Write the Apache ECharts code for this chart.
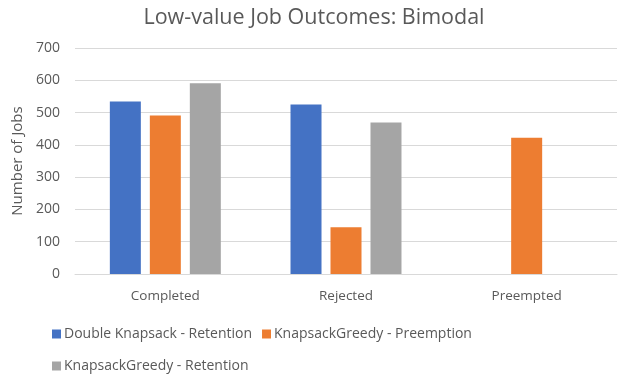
<!DOCTYPE html>
<html>
<head>
<meta charset="utf-8">
<script src="https://cdn.jsdelivr.net/npm/echarts@6/dist/echarts.min.js"></script>
<style>
  html, body { margin: 0; padding: 0; background: #fff; }
  #chart { width: 628px; height: 380px; }
</style>
</head>
<body>
<div id="chart"></div>
<script>
// chart data
const categories = ["Completed", "Rejected", "Preempted"];
const seriesNames = [
  "Double Knapsack - Retention",
  "KnapsackGreedy - Preemption",
  "KnapsackGreedy - Retention",
];
const doubleKnapsackRetention = [534, 525, 0];
const greedyPreemption = [491, 145, 422];
const greedyRetention = [591, 469, 0];
const yTicks = [0, 100, 200, 300, 400, 500, 600, 700];

const colors = ["#4472C4", "#ED7D31", "#A5A5A5"];
const font = "'Open Sans', 'Noto Sans', sans-serif";
const textColor = "#595959";

var myChart = echarts.init(document.getElementById("chart"));

var legendBase = {
  orient: "horizontal",
  icon: "rect",
  itemWidth: 9,
  itemHeight: 9,
  itemGap: 10,
  textStyle: { fontFamily: font, fontSize: 14, color: textColor, padding: [0, 0, 0, -2] },
};

var option = {
  backgroundColor: "#fff",
  animation: false,
  color: colors,
  title: {
    text: "Low-value Job Outcomes: Bimodal",
    left: "center",
    top: 2,
    textStyle: { fontFamily: font, fontSize: 21.5, fontWeight: "normal", color: textColor },
  },
  legend: [
    Object.assign({}, legendBase, { left: 47, top: 322, data: seriesNames.slice(0, 2) }),
    Object.assign({}, legendBase, { left: 47, top: 354, data: seriesNames.slice(2) }),
  ],
  grid: { left: 75, right: 11, top: 48, bottom: 106 },
  xAxis: {
    type: "category",
    data: categories,
    axisLine: { lineStyle: { color: "#d9d9d9" } },
    axisTick: { show: false },
    axisLabel: { fontFamily: font, fontSize: 13.5, color: textColor, margin: 15 },
  },
  yAxis: {
    type: "value",
    min: yTicks[0],
    max: yTicks[yTicks.length - 1],
    interval: 100,
    name: "Number of Jobs",
    nameLocation: "middle",
    nameGap: 50,
    nameTextStyle: { fontFamily: font, fontSize: 15, color: textColor },
    axisLine: { show: false },
    axisTick: { show: false },
    axisLabel: { fontFamily: font, fontSize: 14, color: textColor, margin: 15 },
    splitLine: { lineStyle: { color: "#d9d9d9" } },
  },
  series: [
    { name: seriesNames[0], type: "bar", data: doubleKnapsackRetention, barWidth: 31, barGap: "29%" },
    { name: seriesNames[1], type: "bar", data: greedyPreemption, barWidth: 31, barGap: "29%" },
    { name: seriesNames[2], type: "bar", data: greedyRetention, barWidth: 31, barGap: "29%" },
  ],
};

myChart.setOption(option);
</script>
</body>
</html>
